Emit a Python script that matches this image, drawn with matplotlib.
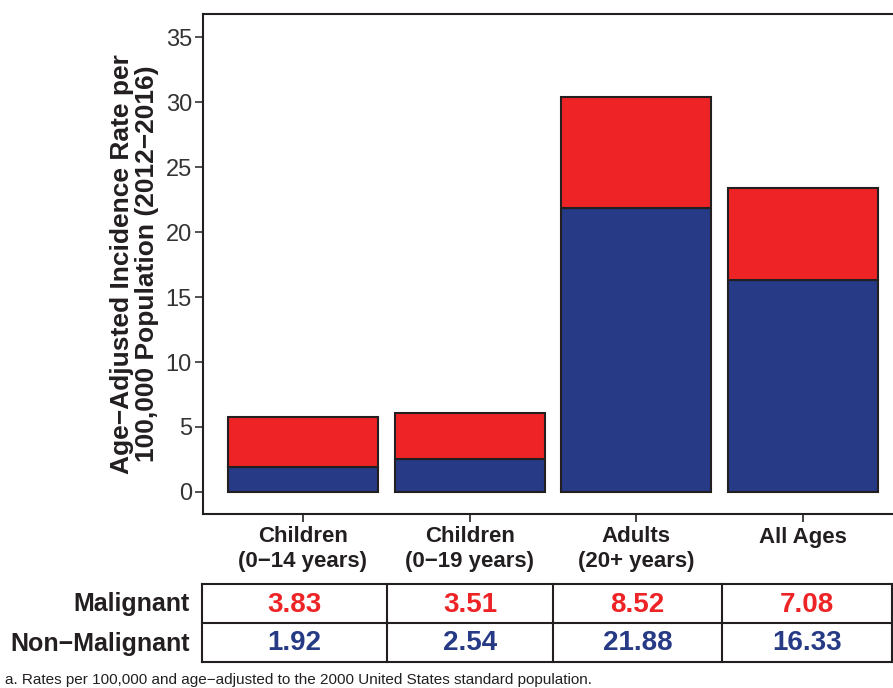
import numpy as np
import matplotlib.pyplot as plt

### Data
groups = ['Children\n(0\u221214 years)', 'Children\n(0\u221219 years)',
          'Adults\n(20+ years)', 'All Ages']
malignant = [3.83, 3.51, 8.52, 7.08]
non_malignant = [1.92, 2.54, 21.88, 16.33]
row_labels = ['Malignant', 'Non\u2212Malignant']

red = '#EE2326'
blue = '#263A85'
dark = '#231F20'

plt.rcParams['font.family'] = ['Liberation Sans', 'DejaVu Sans']

W, H = 893, 688
fig = plt.figure(figsize=(W / 100, H / 100), dpi=100)

### Bar chart
ax = fig.add_axes([203 / W, 1 - 514 / H, 700 / W, 500 / H])
x = np.arange(1, len(groups) + 1)
ax.bar(x, non_malignant, width=0.9, color=blue, edgecolor=dark, linewidth=1.5)
ax.bar(x, malignant, width=0.9, bottom=non_malignant, color=red,
       edgecolor=dark, linewidth=1.5)
ax.set_xlim(0.4, 4.6)
ax.set_ylim(-1.7, 36.8)
ax.set_yticks([0, 5, 10, 15, 20, 25, 30, 35])
ax.set_xticks(x)
ax.set_xticklabels(groups, fontsize=16, fontweight='bold', color=dark,
                   linespacing=1.25)
ax.tick_params(axis='y', labelsize=17, colors='#333333', length=6, width=1.2,
               pad=2)
ax.tick_params(axis='x', length=6, width=1.2, colors=dark, pad=3)
for s in ax.spines.values():
    s.set_linewidth(1.5)
    s.set_color(dark)
ax.set_ylabel('Age\u2212Adjusted Incidence Rate per\n100,000 Population (2012\u22122016)',
              fontsize=19, fontweight='bold', color=dark, linespacing=1.05,
              labelpad=5)

### Table
cols = [202, 387, 553, 722, 892]
tab = fig.add_axes([0, 0, 1, 1])
tab.set_xlim(0, W)
tab.set_ylim(H, 0)
tab.axis('off')
top, mid, bot = 584, 623, 662
for yy in (top, mid, bot):
    tab.plot([cols[0], cols[-1]], [yy, yy], color=dark, lw=1.5)
for xx in cols:
    tab.plot([xx, xx], [top, bot], color=dark, lw=1.5)
rows = [malignant, non_malignant]
colors = [red, blue]
centers = [(top + mid) / 2 + 1, (mid + bot) / 2 + 1]
for r, vals in enumerate(rows):
    tab.text(190, centers[r], row_labels[r], ha='right', va='center',
             fontsize=18, fontweight='bold', color=dark)
    for c, v in enumerate(vals):
        tab.text((cols[c] + cols[c + 1]) / 2, centers[r], '%.2f' % v,
                 ha='center', va='center', fontsize=20, fontweight='bold',
                 color=colors[r])

tab.text(5, 680, 'a. Rates per 100,000 and age\u2212adjusted to the 2000 United States standard population.',
         ha='left', va='center', fontsize=11, color=dark)

fig.savefig('out.png', dpi=100)
